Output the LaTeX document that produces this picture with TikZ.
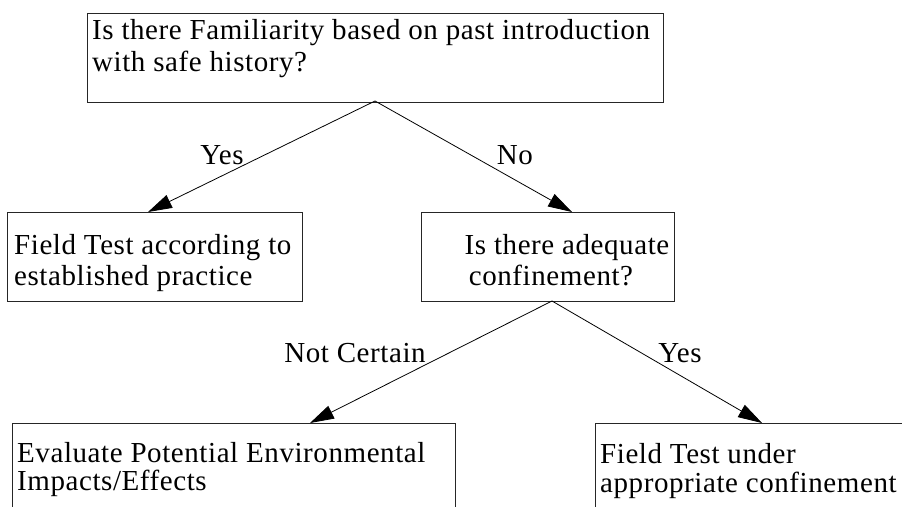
\documentclass[tikz,border=0pt]{standalone}
\usepackage{fontspec}
\setmainfont{Liberation Serif}[LetterSpace=2]
\usetikzlibrary{arrows.meta}
\begin{document}
\begin{tikzpicture}[x=1pt,y=-1pt,
  box/.style={draw=black!85,line width=1.1pt,rectangle,inner sep=0pt,anchor=north west},
  txt/.style={anchor=base west,inner sep=0pt,font=\fontsize{29}{32}\selectfont},
  ctxt/.style={anchor=base,inner sep=0pt,font=\fontsize{29}{32}\selectfont},
  lbl/.style={anchor=base,inner sep=0pt,font=\fontsize{29}{32}\selectfont},
  arr/.style={line width=0.8pt,-{Triangle[length=24pt,width=14pt]}}]
\useasboundingbox (0,0) rectangle (902,506);
% boxes
\node[box,minimum width=576pt,minimum height=89pt] (top) at (87,13) {};
\node[box,minimum width=295pt,minimum height=89pt] (lb) at (7,212) {};
\node[box,minimum width=253pt,minimum height=89pt] (mb) at (421,212) {};
\node[box,minimum width=443pt,minimum height=110pt] (bl) at (12,423) {};
\node[box,minimum width=330pt,minimum height=110pt] (br) at (595,423) {};
% texts
\node[txt] (t1) at (92,39) {Is there Familiarity based on past introduction};
\node[txt] (t2) at (92,71) {with safe history?};
\node[txt] (l1) at (14,254) {Field Test according to};
\node[txt] (l2) at (14,285) {established practice};
\node[ctxt] (m1) at (567,254) {Is there adequate};
\node[ctxt] (m2) at (551,285) {confinement?};
\node[txt] (b1) at (17,462) {Evaluate Potential Environmental};
\node[txt] (b2) at (17,490) {Impacts/Effects};
\node[txt] (r1) at (600,463) {Field Test under};
\node[txt] (r2) at (600,492) {appropriate confinement};
% connector ends
\coordinate (a1) at (148,212);
\coordinate (a2) at (572,212);
\coordinate (c0) at (552,301);
\coordinate (a3) at (310,423);
\coordinate (a4) at (762,423);
\coordinate (s0) at (375,101);
\draw[arr] (s0) -- (a1);
\draw[arr] (s0) -- (a2);
\draw[arr] (c0) -- (a3);
\draw[arr] (c0) -- (a4);
% labels
\node[lbl] (y1) at (222,164) {Yes};
\node[lbl] (n1) at (515,164) {No};
\node[lbl] (nc) at (355,362) {Not Certain};
\node[lbl] (y2) at (680,362) {Yes};
\end{tikzpicture}
\end{document}
